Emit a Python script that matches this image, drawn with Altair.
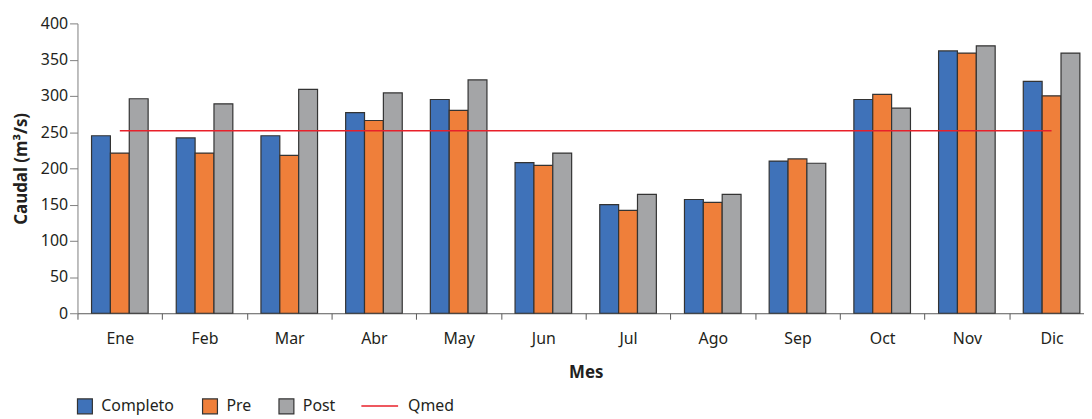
import altair as alt
import pandas as pd

meses = ["Ene", "Feb", "Mar", "Abr", "May", "Jun", "Jul", "Ago", "Sep", "Oct", "Nov", "Dic"]
series = ["Completo", "Pre", "Post"]
completo = [245, 242, 245, 277, 295, 208, 150, 157, 210, 295, 362, 320]
pre = [221, 221, 218, 266, 280, 204, 142, 153, 213, 302, 359, 300]
post = [296, 289, 309, 304, 322, 221, 164, 164, 207, 283, 369, 359]
qmed = 252
y_ticks = [0, 50, 100, 150, 200, 250, 300, 350, 400]

colors = ["#3F72B9", "#EF7F3A", "#A4A5A7"]
FONT = "Noto Sans"
TXT = "#231F20"

rows = []
for name, vals in zip(series, [completo, pre, post]):
    for m, v in zip(meses, vals):
        rows.append({"Mes": m, "Serie": name, "Caudal": v})
bars_df = pd.DataFrame(rows)
line_df = pd.DataFrame({"Mes": meses, "Caudal": [qmed] * len(meses), "Leyenda": ["Qmed"] * len(meses)})

x_enc = alt.X(
    "Mes:N",
    sort=meses,
    scale=alt.Scale(domain=meses, paddingInner=0, paddingOuter=0),
    axis=alt.Axis(
        title="Mes",
        titleFontSize=17,
        titleFontWeight="bold",
        titleFont=FONT,
        titleColor=TXT,
        titlePadding=19,
        titleX=512,
        labelFontSize=16,
        labelFont=FONT,
        labelColor=TXT,
        labelPadding=11,
        labelAngle=0,
        tickBand="extent",
        tickSize=6,
        tickColor="#595959",
        domainColor="#595959",
        grid=False,
    ),
)

y_enc = alt.Y(
    "Caudal:Q",
    scale=alt.Scale(domain=[0, 400], nice=False),
    axis=alt.Axis(
        title="Caudal (m³/s)",
        values=y_ticks,
        labelOverlap=False,
        titleFontSize=17,
        titleFontWeight="bold",
        titleFont=FONT,
        titleColor=TXT,
        titlePadding=10,
        labelFontSize=16,
        labelFont=FONT,
        labelColor=TXT,
        labelPadding=2,
        tickSize=8,
        tickColor="#7F7F7F",
        domainColor="#7F7F7F",
        grid=False,
    ),
)

bars = alt.Chart(bars_df).mark_bar(stroke="#333333", strokeWidth=1.2).encode(
    x=x_enc,
    xOffset=alt.XOffset("Serie:N", sort=series, scale=alt.Scale(domain=series, paddingInner=0, paddingOuter=0.745)),
    y=y_enc,
    color=alt.Color(
        "Serie:N",
        scale=alt.Scale(domain=series, range=colors),
        legend=alt.Legend(
            title=None,
            orient="none",
            legendX=-1,
            legendY=377,
            direction="horizontal",
            symbolType="square",
            symbolSize=225,
            symbolStrokeColor="#333333",
            symbolStrokeWidth=1.2,
            symbolOpacity=1,
            labelFont=FONT,
            labelFontSize=16,
            labelColor=TXT,
            labelOffset=8,
            columnPadding=25,
            padding=0,
        ),
    ),
)

line = alt.Chart(line_df).mark_line(strokeWidth=1.5).encode(
    x=x_enc,
    y=y_enc,
    stroke=alt.Stroke(
        "Leyenda:N",
        scale=alt.Scale(domain=["Qmed"], range=["#E8202A"]),
        legend=alt.Legend(
            title=None,
            orient="none",
            legendX=285,
            legendY=366,
            direction="horizontal",
            symbolType="stroke",
            symbolSize=1369,
            symbolStrokeWidth=1.5,
            labelFont=FONT,
            labelFontSize=16,
            labelColor=TXT,
            labelOffset=9,
            padding=0,
        ),
    ),
)

chart = (
    alt.layer(bars, line)
    .properties(
        width=1024,
        height=292,
        autosize=alt.AutoSizeParams(type="none"),
        padding={"left": 70, "top": 14, "right": -10, "bottom": 103},
        background="white",
    )
    .configure_view(stroke=None)
)

chart.save("out.html", embed_options={"renderer": "svg", "actions": False})
